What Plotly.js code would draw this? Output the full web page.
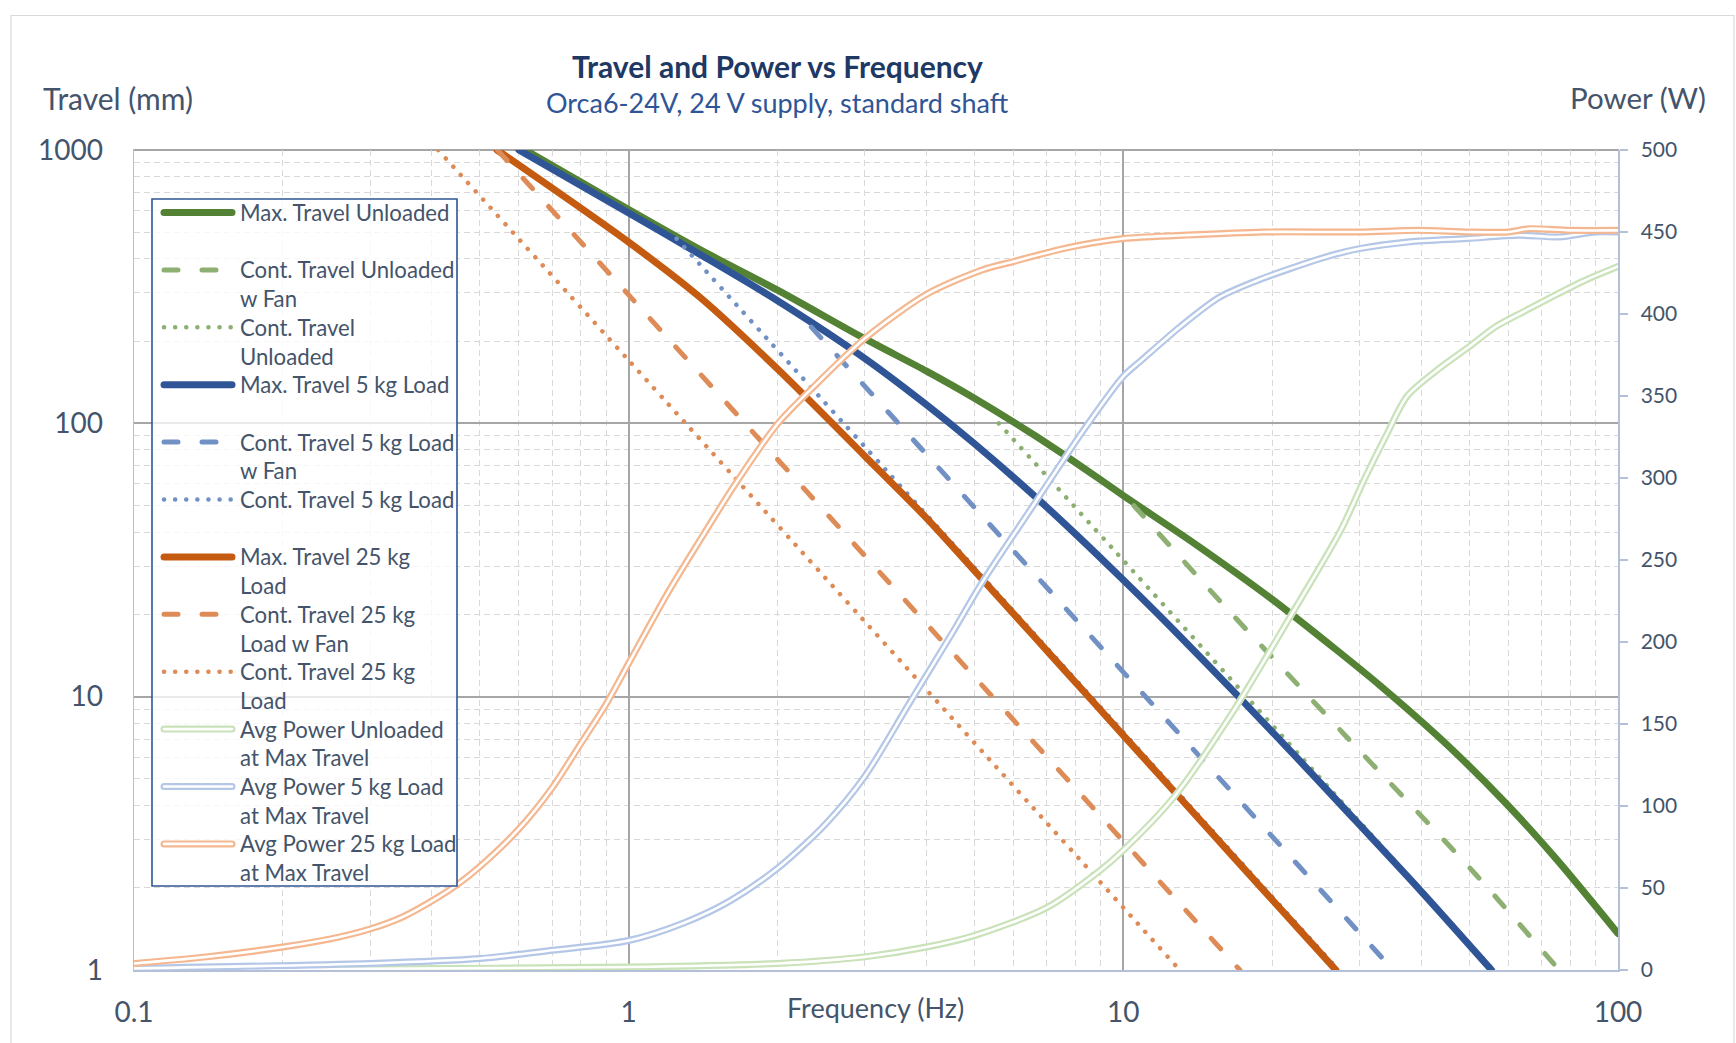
<!DOCTYPE html>
<html>
<head>
<meta charset="utf-8">
<script src="https://cdn.plot.ly/plotly-3.0.1.min.js"></script>
<style>
  html, body { margin: 0; padding: 0; background: #ffffff; }
  #chart { width: 1736px; height: 1043px; }
  .scatterlayer .js-line { stroke-linecap: round; stroke-linejoin: round; }
  .shapelayer path { stroke-linecap: round; }
</style>
</head>
<body>
<div id="chart"></div>
<script>
// ---------------- DATA ----------------
const seriesNames = [
  "Max. Travel Unloaded",
  "Cont. Travel Unloaded<br>w Fan",
  "Cont. Travel<br>Unloaded",
  "Max. Travel 5 kg Load",
  "Cont. Travel 5 kg Load<br>w Fan",
  "Cont. Travel 5 kg Load",
  "Max. Travel 25 kg<br>Load",
  "Cont. Travel 25 kg<br>Load w Fan",
  "Cont. Travel 25 kg<br>Load",
  "Avg Power Unloaded<br>at Max Travel",
  "Avg Power 5 kg Load<br>at Max Travel",
  "Avg Power 25 kg Load<br>at Max Travel"
];

// Travel (mm) vs frequency (Hz)
const maxUnloadedF = [0.618, 1, 1.4, 2, 3, 4, 5, 6.6, 8, 10, 14, 20, 27, 33, 45, 60, 75, 100];
const maxUnloadedT = [1000, 605, 430, 307, 204, 155.3, 123.6, 90.6, 71.9, 54.4, 36.1, 22.7, 14.8, 11.0, 6.70, 3.99, 2.55, 1.36];

const contUnloadedFanF = [10.5, 15.6, 28, 51.3, 76];
const contUnloadedFanT = [50, 22.6, 7.26, 2.26, 1.0];

const contUnloadedF = [5.6, 9.7, 18, 56];
const contUnloadedT = [100, 33.5, 9.72, 1.0];

const max5kgF = [0.6, 1, 1.4, 2, 3, 4, 5, 6.6, 8, 10, 12.5, 17.1, 22.8, 28, 40, 55.5];
const max5kgT = [1000, 588, 413, 281, 173, 117, 84.3, 54.4, 39.4, 26.7, 17.9, 10.0, 5.79, 3.89, 1.94, 1.0];

const cont5kgFanF = [2.34, 10.9, 35.1];
const cont5kgFanT = [225, 10.35, 1.0];

const cont5kgF = [1.25, 3.34, 27.2];
const cont5kgT = [474, 66.3, 1.0];

const max25kgF = [0.542, 1, 1.4, 2, 3, 4, 5, 6.6, 8.46, 10, 12.7, 16.7, 22.8, 26.9];
const max25kgT = [1000, 460, 287, 158, 76, 45.0, 28.9, 16.6, 10.1, 7.22, 4.48, 2.59, 1.39, 1.0];

const cont25kgFanF = [0.543, 1, 17.2];
const cont25kgFanT = [1000, 295, 1.0];

const cont25kgF = [0.412, 1, 13.0];
const cont25kgT = [1000, 170, 1.0];

// Power (W) vs frequency (Hz)
const powUnloadedF = [0.1, 0.3, 1, 2, 3, 4, 5, 7, 9, 10, 12.7, 16.7, 21.9, 27.5, 30.8, 34, 37.5, 43.6, 50, 56.4, 65, 73, 85, 100];
const powUnloadedP = [0.3, 0.8, 1.8, 4, 8, 14, 21, 38, 61, 73, 106, 158, 217, 268, 300, 326, 350, 367, 380, 392, 402, 410, 420, 429];

const pow5kgF = [0.1, 0.3, 0.5, 0.7, 1, 1.3, 1.6, 2, 2.5, 3, 3.7, 4.5, 5.15, 6.6, 8.3, 10, 10.9, 13, 15.6, 18.5, 21.9, 26.5, 30.2, 37.9, 49.5, 63, 76, 90, 100];
const pow5kgP = [1, 4, 7, 12, 18, 29, 42, 62, 89, 118, 163, 205, 235, 284, 329, 362, 372, 392, 410, 420, 428, 436, 440, 444, 446, 448, 447, 450, 450];

const pow25kgF = [0.1, 0.14, 0.2, 0.25, 0.3, 0.35, 0.41, 0.45, 0.5, 0.6, 0.7, 0.8, 0.9, 1, 1.2, 1.42, 1.64, 2, 2.41, 3, 4, 5.2, 6, 7.6, 10, 13.2, 19.2, 30, 39.5, 50, 60, 66, 80, 100];
const pow25kgP = [4, 8, 14, 19, 25, 32.5, 44, 52, 63, 86, 111, 138, 162, 187, 230, 266, 296, 333, 358, 385, 412, 427, 432, 440, 446, 448, 450, 450, 451, 450, 450, 452, 451, 451];

// Axis ticks
const xTickVals = [0.1, 1, 10, 100];
const xTickText = ["0.1", "1", "10", "100"];
const xMinorVals = [0.2,0.3,0.4,0.5,0.6,0.7,0.8,0.9, 2,3,4,5,6,7,8,9, 20,30,40,50,60,70,80,90];
const yTickVals = [1, 10, 100, 1000];
const yTickText = ["1", "10", "100", "1000"];
const yMinorVals = [2,3,4,5,6,7,8,9, 20,30,40,50,60,70,80,90, 200,300,400,500,600,700,800,900];
const y2TickVals = [0, 50, 100, 150, 200, 250, 300, 350, 400, 450, 500];

// ---------------- STYLES ----------------
const C = {
  green: "#548235", greenLt: "#8DB072",
  blue: "#2F5597", blueLt: "#7191C5",
  orange: "#C55A11", orangeLt: "#DE8C57",
  pGreen: "#C9E2B9", pBlue: "#B4C7E7", pOrange: "#F4B78F",
  text: "#44546A", axis: "#B4C0D8", major: "#A6A6A6", minor: "#D9D9D9"
};
const FONT = "Lato, 'Open Sans', sans-serif";
const DASH = "14px,24px";
const DOT = "0.1px,11px";

const travelStyles = [
  {c: C.green, w: 7, d: "solid"},
  {c: C.greenLt, w: 5, d: DASH},
  {c: C.greenLt, w: 4.5, d: DOT},
  {c: C.blue, w: 7, d: "solid"},
  {c: C.blueLt, w: 5, d: DASH},
  {c: C.blueLt, w: 4.5, d: DOT},
  {c: C.orange, w: 7, d: "solid"},
  {c: C.orangeLt, w: 5, d: DASH},
  {c: C.orangeLt, w: 4.5, d: DOT}
];
const powerColors = [C.pGreen, C.pBlue, C.pOrange];

const travelData = [
  [maxUnloadedF, maxUnloadedT], [contUnloadedFanF, contUnloadedFanT], [contUnloadedF, contUnloadedT],
  [max5kgF, max5kgT], [cont5kgFanF, cont5kgFanT], [cont5kgF, cont5kgT],
  [max25kgF, max25kgT], [cont25kgFanF, cont25kgFanT], [cont25kgF, cont25kgT]
];
const powerData = [[powUnloadedF, powUnloadedP], [pow5kgF, pow5kgP], [pow25kgF, pow25kgP]];

const traces = [];
travelData.forEach((d, i) => {
  const s = travelStyles[i];
  traces.push({
    type: "scatter", mode: "lines", x: d[0], y: d[1], name: seriesNames[i].replace("<br>", " "),
    xaxis: "x", yaxis: "y", showlegend: false, hoverinfo: "skip",
    line: {color: s.c, width: s.w, dash: s.d, shape: "spline", smoothing: 0.8}
  });
});
powerData.forEach((d, i) => {
  traces.push({
    type: "scatter", mode: "lines", x: d[0], y: d[1], name: seriesNames[9 + i].replace("<br>", " "),
    xaxis: "x", yaxis: "y2", showlegend: false, hoverinfo: "skip",
    line: {color: powerColors[i], width: 7, shape: "spline", smoothing: 0.8}
  });
  traces.push({
    type: "scatter", mode: "lines", x: d[0], y: d[1], name: seriesNames[9 + i].replace("<br>", " ") + " (inner)",
    xaxis: "x", yaxis: "y2", showlegend: false, hoverinfo: "skip",
    line: {color: "#ffffff", width: 2.6, shape: "spline", smoothing: 0.8}
  });
});

// ---------------- LAYOUT ----------------
const PL = 134, PR = 1618, PT = 150, PB = 970;
const PW = PR - PL, PH = PB - PT;
const px = x => (x - PL) / PW;
const py = y => (PB - y) / PH;

const shapes = [];
const annotations = [];

// outer chart border
shapes.push({type: "rect", xref: "paper", yref: "paper", x0: px(11), x1: px(1734), y0: py(1060), y1: py(15.5),
  line: {color: "#D9D9D9", width: 1.2}, fillcolor: "rgba(0,0,0,0)", layer: "below"});
// top edge major line (1000 mm)
shapes.push({type: "line", xref: "paper", yref: "paper", x0: 0, x1: 1, y0: 1, y1: 1,
  line: {color: C.major, width: 2.2}, layer: "between"});

// legend box
shapes.push({type: "rect", xref: "paper", yref: "paper", x0: px(152), x1: px(457), y0: py(886), y1: py(199),
  line: {color: "#2F5597", width: 1.6}, fillcolor: "rgba(255,255,255,0.78)", layer: "above"});

const LEG_Y0 = 212.5, LEG_DY = 57.4, ICON_X0 = 164, ICON_X1 = 232, TXT_X = 238, LINE_H = 28.8;
for (let i = 0; i < 12; i++) {
  const yc = LEG_Y0 + LEG_DY * i;
  if (i < 9) {
    const s = travelStyles[i];
    shapes.push({type: "line", xref: "paper", yref: "paper", x0: px(ICON_X0), x1: px(ICON_X1), y0: py(yc), y1: py(yc),
      line: {color: s.c, width: s.w, dash: s.d}, layer: "above"});
  } else {
    const c = powerColors[i - 9];
    shapes.push({type: "line", xref: "paper", yref: "paper", x0: px(ICON_X0), x1: px(ICON_X1), y0: py(yc), y1: py(yc),
      line: {color: c, width: 7}, layer: "above"});
    shapes.push({type: "line", xref: "paper", yref: "paper", x0: px(ICON_X0), x1: px(ICON_X1), y0: py(yc), y1: py(yc),
      line: {color: "#ffffff", width: 2.6}, layer: "above"});
  }
  const lines = seriesNames[i].split("<br>");
  lines.forEach((t, k) => {
    annotations.push({xref: "paper", yref: "paper", x: px(TXT_X), y: py(yc + k * LINE_H), xanchor: "left", yanchor: "middle",
      text: t, showarrow: false, font: {family: FONT, size: 22.2, color: C.text}});
  });
}

// titles
annotations.push({xref: "paper", yref: "paper", x: px(777), y: py(66), xanchor: "center", yanchor: "middle",
  text: "<b>Travel and Power vs Frequency</b>", showarrow: false, font: {family: FONT, size: 30, color: "#203864"}});
annotations.push({xref: "paper", yref: "paper", x: px(777), y: py(103), xanchor: "center", yanchor: "middle",
  text: "Orca6-24V, 24 V supply, standard shaft", showarrow: false, font: {family: FONT, size: 27, color: "#2F5597"}});
annotations.push({xref: "paper", yref: "paper", x: px(41), y: py(97.5), xanchor: "left", yanchor: "middle",
  text: "Travel (mm)", showarrow: false, font: {family: FONT, size: 30, color: C.text}});
annotations.push({xref: "paper", yref: "paper", x: px(1708), y: py(97.5), xanchor: "right", yanchor: "middle",
  text: "Power (W)", showarrow: false, font: {family: FONT, size: 29.5, color: C.text}});
annotations.push({xref: "paper", yref: "paper", x: px(875), y: py(1007), xanchor: "center", yanchor: "middle",
  text: "Frequency (Hz)", showarrow: false, font: {family: FONT, size: 27, color: C.text}});

const layout = {
  width: 1736, height: 1043,
  margin: {l: PL, r: 1736 - PR, t: PT, b: 1043 - PB, pad: 0},
  paper_bgcolor: "#ffffff", plot_bgcolor: "#ffffff",
  showlegend: false,
  font: {family: FONT, color: C.text},
  xaxis: {
    type: "log", range: [-1, 2], tickmode: "array", tickvals: xTickVals, ticktext: xTickText,
    showgrid: true, gridcolor: C.major, gridwidth: 2.2, zeroline: false,
    showline: true, linecolor: C.axis, linewidth: 1.5, ticks: "", ticklabelstandoff: 17,
    tickfont: {family: FONT, size: 28, color: C.text},
    minor: {tickmode: "array", tickvals: xMinorVals, showgrid: true, gridcolor: C.minor, griddash: "6px,4px", gridwidth: 1, ticks: ""}
  },
  yaxis: {
    type: "log", range: [0, 3], tickmode: "array", tickvals: yTickVals, ticktext: yTickText,
    showgrid: true, gridcolor: C.major, gridwidth: 2.2, zeroline: false,
    showline: true, linecolor: C.axis, linewidth: 1.5, ticks: "", ticklabelstandoff: 24,
    tickfont: {family: FONT, size: 28, color: C.text},
    minor: {tickmode: "array", tickvals: yMinorVals, showgrid: true, gridcolor: C.minor, griddash: "6px,4px", gridwidth: 1, ticks: ""}
  },
  yaxis2: {
    overlaying: "y", side: "right", range: [0, 500], tickmode: "array", tickvals: y2TickVals,
    showgrid: false, zeroline: false, showline: true, linecolor: C.axis, linewidth: 1.5,
    ticks: "outside", ticklen: 8, tickcolor: C.axis, tickwidth: 1.5, ticklabelstandoff: 9,
    tickfont: {family: FONT, size: 21, color: C.text}
  },
  shapes: shapes,
  annotations: annotations
};

Plotly.newPlot("chart", traces, layout, {staticPlot: true, displayModeBar: false});
</script>
</body>
</html>
